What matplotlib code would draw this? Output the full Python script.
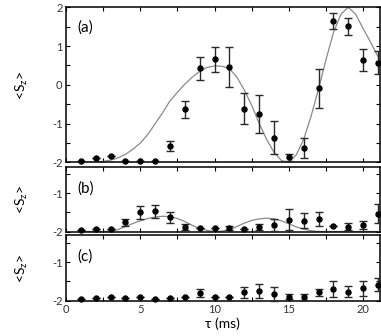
import matplotlib
matplotlib.use("Agg")
import matplotlib.pyplot as plt
from matplotlib.ticker import MultipleLocator

plt.rcParams['axes.unicode_minus'] = False
plt.rcParams['font.family'] = ['Lato', 'DejaVu Sans']
plt.rcParams['mathtext.fontset'] = 'custom'
plt.rcParams['mathtext.rm'] = 'Lato'

# ---- data: panel (a) ----
tau = list(range(1, 22))
sz_a = [-1.96, -1.88, -1.82, -1.96, -1.96, -1.95, -1.57, -0.63, 0.43, 0.66, 0.46,
        -0.62, -0.74, -1.36, -1.87, -1.63, -0.09, 1.65, 1.51, 0.64, 0.57]
err_a = [0.0, 0.0, 0.0, 0.0, 0.0, 0.0, 0.13, 0.22, 0.30, 0.32, 0.52,
         0.40, 0.49, 0.42, 0.09, 0.26, 0.50, 0.21, 0.22, 0.29, 0.30]

# ---- data: panel (b) ----
sz_b = [-1.96, -1.94, -1.94, -1.76, -1.50, -1.47, -1.63, -1.88, -1.92, -1.92, -1.91,
        -1.94, -1.89, -1.83, -1.69, -1.72, -1.68, -1.86, -1.88, -1.83, -1.53]
err_b = [0.0, 0.0, 0.0, 0.09, 0.17, 0.17, 0.15, 0.08, 0.0, 0.0, 0.05,
         0.0, 0.08, 0.15, 0.27, 0.20, 0.18, 0.0, 0.09, 0.10, 0.25]

# ---- data: panel (c) ----
sz_c = [-1.97, -1.94, -1.92, -1.94, -1.92, -1.96, -1.93, -1.90, -1.81, -1.92, -1.92,
        -1.79, -1.75, -1.83, -1.90, -1.91, -1.79, -1.70, -1.77, -1.68, -1.59]
err_c = [0.0, 0.0, 0.0, 0.0, 0.0, 0.0, 0.0, 0.0, 0.11, 0.0, 0.0,
         0.14, 0.18, 0.17, 0.06, 0.08, 0.10, 0.21, 0.15, 0.20, 0.17]

# ---- theory curves ----
curve_t = [1.0, 1.5, 2.0, 2.5, 3.0, 3.5, 4.0, 4.5, 5.0, 5.5, 6.0, 6.5, 7.0, 7.5, 8.0,
           8.5, 9.0, 9.5, 10.0, 10.5, 11.0, 11.5, 12.0, 12.5, 13.0, 13.5, 14.0, 14.5,
           15.0, 15.5, 16.0, 16.5, 17.0, 17.5, 18.0, 18.5, 19.0, 19.5, 20.0, 20.5, 21.0]
curve_a = [-2.0, -1.995, -1.99, -1.97, -1.94, -1.88, -1.79, -1.66, -1.50, -1.28, -1.00,
           -0.72, -0.41, -0.19, 0.02, 0.20, 0.35, 0.45, 0.49, 0.48, 0.42, 0.20, -0.13,
           -0.53, -0.99, -1.40, -1.74, -1.95, -2.0, -1.80, -1.40, -0.80, -0.10, 0.65,
           1.35, 1.82, 2.0, 1.82, 1.45, 1.10, 0.73]
curve_b = [-2.0, -2.0, -2.0, -2.0, -1.99, -1.95, -1.87, -1.79, -1.72, -1.66, -1.62,
           -1.60, -1.61, -1.66, -1.74, -1.84, -1.92, -1.97, -2.0, -1.99, -1.95, -1.87,
           -1.78, -1.71, -1.67, -1.65, -1.67, -1.72, -1.80, -1.88, -1.94, -1.98, -2.0,
           -2.0, -2.0, -2.0, -2.0, -2.0, -2.0, -2.0, -2.0]

W, H = 381, 336
fig = plt.figure(figsize=(W / 100, H / 100), dpi=100)

def frac(top, bottom, left=66, right=379.5):
    return [left / W, 1 - bottom / H, (right - left) / W, (bottom - top) / H]

ax_a = fig.add_axes(frac(7.3, 162.5))
ax_b = fig.add_axes(frac(166.7, 231.5))
ax_c = fig.add_axes(frac(235.3, 300.5))

panels = [
    (ax_a, sz_a, err_a, curve_a, '(a)', (-2, 2), 0.87),
    (ax_b, sz_b, err_b, curve_b, '(b)', (-2, -0.3), 0.67),
    (ax_c, sz_c, err_c, None, '(c)', (-2, -0.3), 0.67),
]

for ax, y, e, curve, lab, ylim, ly in panels:
    if curve is not None:
        ax.plot(curve_t, curve, color='#8a8a8a', lw=0.9, zorder=2, clip_on=True)
    ax.errorbar(tau, y, yerr=e, fmt='o', color='black', ms=3.6, mec='black',
                ecolor='#2a2a2a', elinewidth=1.0, capsize=2.6, capthick=1.0,
                zorder=3, clip_on=False)
    ax.set_xlim(0, 21.1)
    ax.set_ylim(*ylim)
    ax.xaxis.set_major_locator(MultipleLocator(5))
    ax.xaxis.set_minor_locator(MultipleLocator(2.5))
    ax.yaxis.set_major_locator(MultipleLocator(1))
    ax.yaxis.set_minor_locator(MultipleLocator(0.5))
    ax.tick_params(which='both', direction='in', top=True, right=True,
                   labelsize=8, labelcolor='#333333', pad=2.5, width=0.8)
    ax.tick_params(which='major', length=3)
    ax.tick_params(which='minor', length=3)
    for s in ax.spines.values():
        s.set_linewidth(1.1)
    ax.set_ylabel(r'<S$_{\mathrm{z}}$>', fontsize=10)
    ax.yaxis.set_label_coords(-0.115, 0.5)
    ax.text(0.035, ly, lab, transform=ax.transAxes, fontsize=11,
            ha='left', va='center')

ax_a.tick_params(labelbottom=False)
ax_b.tick_params(labelbottom=False)
ax_c.set_xlabel('τ (ms)', fontsize=10, labelpad=2)

fig.savefig('out.png', dpi=100)
